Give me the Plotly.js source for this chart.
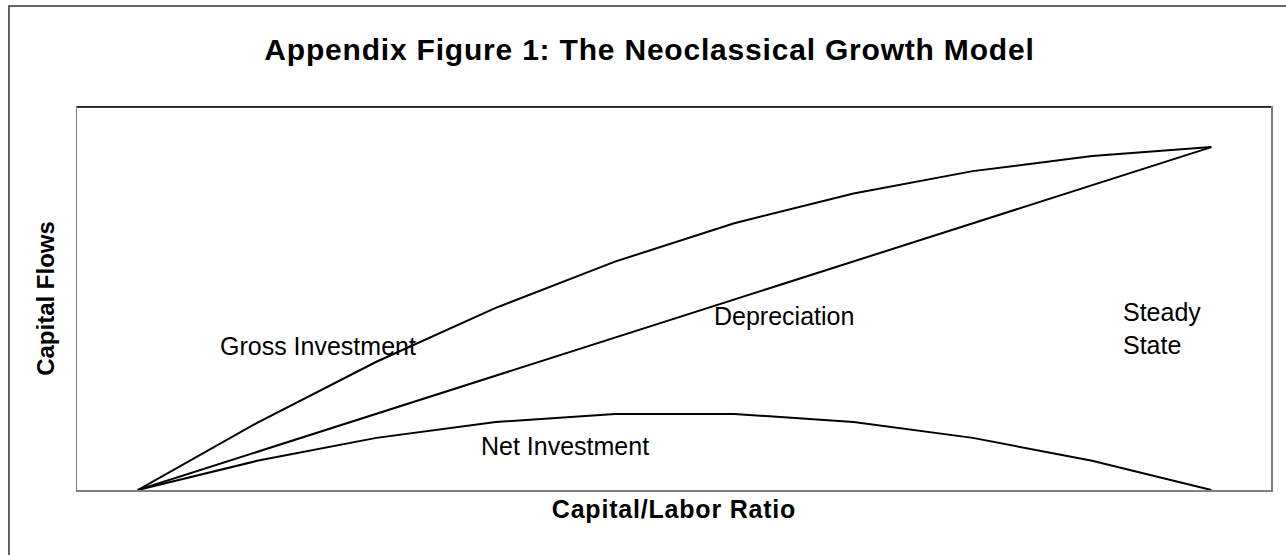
<!DOCTYPE html>
<html>
<head>
<meta charset="utf-8">
<script src="https://cdn.plot.ly/plotly-3.0.1.min.js"></script>
<style>
  html, body { margin: 0; padding: 0; background: #ffffff; }
  #chart { width: 1286px; height: 555px; }
  #chart .gtitle { letter-spacing: 0.8px; }
  #chart .xtitle { letter-spacing: 0.8px; }
</style>
</head>
<body>
<div id="chart"></div>
<script>
// Capital/labor ratio positions (category steps along the horizontal axis)
const capitalLabor = [0, 1, 2, 3, 4, 5, 6, 7, 8, 9];
// Capital flows (relative units, steady state = 100)
const grossInvestment = [0, 19.6, 37.4, 53.1, 66.6, 77.8, 86.5, 93.0, 97.4, 100];
const depreciation   = [0, 11.1, 22.2, 33.3, 44.4, 55.6, 66.7, 77.8, 88.9, 100];
const netInvestment  = [0, 8.5, 15.2, 19.8, 22.2, 22.2, 19.8, 15.2, 8.5, 0];

const seriesNames = ["Gross Investment", "Depreciation", "Net Investment"];
const labelText = {
  gross: "Gross Investment",
  dep: "Depreciation",
  steady: "Steady<br>State",
  net: "Net Investment"
};

const lineStyle = { color: "#000000", width: 2 };

const traces = [
  { x: capitalLabor, y: grossInvestment, name: seriesNames[0], mode: "lines", line: lineStyle, hoverinfo: "skip" },
  { x: capitalLabor, y: depreciation,    name: seriesNames[1], mode: "lines", line: lineStyle, hoverinfo: "skip" },
  { x: capitalLabor, y: netInvestment,   name: seriesNames[2], mode: "lines", line: lineStyle, hoverinfo: "skip" }
];

const fontFamily = "Arial, 'Liberation Sans', sans-serif";
const labelFont = { family: fontFamily, size: 25, color: "#000000" };

const layout = {
  width: 1286,
  height: 555,
  margin: { l: 77, r: 15, t: 107, b: 65, pad: 0 },
  paper_bgcolor: "#ffffff",
  plot_bgcolor: "#ffffff",
  showlegend: false,
  title: {
    text: "<b>Appendix Figure 1: The Neoclassical Growth Model</b>",
    font: { family: fontFamily, size: 30, color: "#000000" },
    x: 0.505, xref: "container", xanchor: "center",
    y: 0.911, yref: "container", yanchor: "middle"
  },
  xaxis: {
    range: [-0.51, 9.5],
    showgrid: false, zeroline: false,
    showticklabels: false, ticks: "",
    showline: true, linecolor: "#808080", linewidth: 1.5, mirror: true,
    fixedrange: true,
    title: {
      text: "<b>Capital/Labor Ratio</b>",
      font: { family: fontFamily, size: 25, color: "#000000" },
      standoff: 10
    }
  },
  yaxis: {
    range: [0, 111.7],
    showgrid: false, zeroline: false,
    showticklabels: false, ticks: "",
    showline: true, linecolor: "#808080", linewidth: 1.5, mirror: true,
    fixedrange: true,
    title: {
      text: "<b>Capital Flows</b>",
      font: { family: fontFamily, size: 24, color: "#000000" },
      standoff: 14
    }
  },
  shapes: [
    // outer chart border (right and bottom edges fall outside the picture)
    { type: "rect", xref: "paper", yref: "paper", x0: -0.057, x1: 1.2, y0: -0.4, y1: 1.264,
      line: { color: "#333333", width: 1.5 }, fillcolor: "rgba(0,0,0,0)", layer: "below" },
    // black top edge of plot area
    { type: "line", xref: "paper", yref: "paper", x0: 0, x1: 1, y0: 1, y1: 1,
      line: { color: "#000000", width: 1.5 } }
  ],
  annotations: [
    { x: 0.67, y: 42, xref: "x", yref: "y", text: labelText.gross, showarrow: false,
      xanchor: "left", yanchor: "middle", font: labelFont },
    { x: 4.81, y: 50.7, xref: "x", yref: "y", text: labelText.dep, showarrow: false,
      xanchor: "left", yanchor: "middle", font: labelFont },
    { x: 8.24, y: 47.2, xref: "x", yref: "y", text: labelText.steady, showarrow: false,
      xanchor: "left", yanchor: "middle", align: "left", font: labelFont },
    { x: 2.86, y: 12.8, xref: "x", yref: "y", text: labelText.net, showarrow: false,
      xanchor: "left", yanchor: "middle", font: labelFont }
  ]
};

Plotly.newPlot("chart", traces, layout, { displayModeBar: false, staticPlot: true });
</script>
</body>
</html>
